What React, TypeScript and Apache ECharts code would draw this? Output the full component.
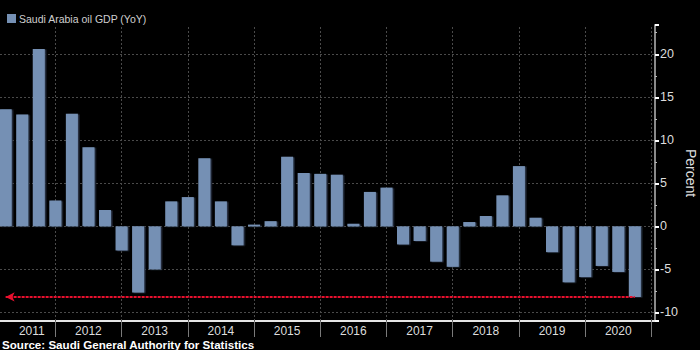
import React, { useEffect, useRef } from "react";
import * as echarts from "echarts";

// Quarterly data, 2011 Q1 .. 2020 Q3 (plotted at quarter end)
const quarters = [
  "2011Q1", "2011Q2", "2011Q3", "2011Q4",
  "2012Q1", "2012Q2", "2012Q3", "2012Q4",
  "2013Q1", "2013Q2", "2013Q3", "2013Q4",
  "2014Q1", "2014Q2", "2014Q3", "2014Q4",
  "2015Q1", "2015Q2", "2015Q3", "2015Q4",
  "2016Q1", "2016Q2", "2016Q3", "2016Q4",
  "2017Q1", "2017Q2", "2017Q3", "2017Q4",
  "2018Q1", "2018Q2", "2018Q3", "2018Q4",
  "2019Q1", "2019Q2", "2019Q3", "2019Q4",
  "2020Q1", "2020Q2", "2020Q3",
];
const oilGdpYoY = [
  13.6, 13.0, 20.6, 3.0,
  13.1, 9.2, 1.9, -2.8,
  -7.7, -5.0, 2.9, 3.4,
  7.9, 2.9, -2.2, 0.2,
  0.6, 8.1, 6.2, 6.1,
  6.0, 0.3, 4.0, 4.5,
  -2.1, -1.7, -4.1, -4.7,
  0.5, 1.2, 3.6, 7.0,
  1.0, -3.0, -6.5, -5.9,
  -4.6, -5.3, -8.2,
];
const years = ["2011", "2012", "2013", "2014", "2015", "2016", "2017", "2018", "2019", "2020"];
const seriesName = "Saudi Arabia oil GDP (YoY)";
const sourceText = "Source: Saudi General Authority for Statistics";

const X_MIN = 0.66;
const X_MAX = 40.22;
const FONT = "'Liberation Sans', Arial, sans-serif";

export default function App() {
  const ref = useRef<HTMLDivElement>(null);

  useEffect(() => {
    if (!ref.current) return;
    const chart = echarts.init(ref.current, null, { renderer: "svg" });

    // x position of each quarter = quarters elapsed since start of 2011
    const barData = oilGdpYoY.map((v, i) => [i + 1, v]);
    const yearBounds = years.map((_, i) => 4 * (i + 1));
    const yearCenters = years.map((_, i) => {
      const s = Math.max(4 * i, X_MIN + 0.5);
      const e = Math.min(4 * (i + 1), X_MAX);
      return (s + e) / 2;
    });
    const lastIdx = oilGdpYoY.length - 1;
    const lastVal = oilGdpYoY[lastIdx];

    chart.setOption({
      animation: false,
      backgroundColor: "#000000",
      textStyle: { fontFamily: FONT },
      grid: { left: 0, right: 45, top: 25, bottom: 29, containLabel: false, outerBoundsMode: "none" },
      legend: {
        data: [seriesName],
        left: 2,
        top: 8,
        icon: "rect",
        itemWidth: 9,
        itemHeight: 9,
        itemGap: 4,
        textStyle: { color: "#cfcfcf", fontSize: 10.5, fontFamily: FONT, padding: [0, 0, 0, -2] },
      },
      xAxis: {
        type: "value",
        min: X_MIN,
        max: X_MAX,
        axisLine: { show: true, onZero: false, lineStyle: { color: "#e6e6e6", width: 2 } },
        axisTick: {
          show: true,
          customValues: yearBounds,
          length: 16,
          lineStyle: { color: "#7a7a7a", width: 1 },
        },
        axisLabel: {
          show: true,
          customValues: yearCenters,
          formatter: (v: number) => years[Math.min(years.length - 1, Math.floor(v / 4))],
          color: "#dddddd",
          fontSize: 12,
          lineHeight: 12,
          margin: 4,
          fontFamily: FONT,
        },
        splitLine: { show: false },
      },
      yAxis: {
        type: "value",
        position: "right",
        min: -11,
        max: 23.4,
        splitNumber: 7,
        name: "Percent",
        nameLocation: "middle",
        nameRotate: -90,
        nameGap: 29,
        nameMoveOverlap: false,
        nameTextStyle: { color: "#dddddd", fontSize: 14, lineHeight: 14, fontFamily: FONT },
        axisLine: { show: true, onZero: false, lineStyle: { color: "#8a8a8a", width: 2 } },
        axisTick: { show: true, length: 4, lineStyle: { color: "#ffffff", width: 2 } },
        minorTick: { show: true, splitNumber: 2, length: 2, lineStyle: { color: "#bbbbbb", width: 1 } },
        axisLabel: {
          color: "#dddddd",
          fontSize: 12.5,
          margin: 5,
          showMinLabel: false,
          showMaxLabel: false,
          fontFamily: FONT,
        },
        splitLine: {
          show: true,
          showMinLine: false,
          showMaxLine: false,
          lineStyle: { color: "#4a4a4a", type: [2, 2], width: 1 },
        },
      },
      series: [
        {
          type: "line",
          name: "grid",
          data: [],
          z: 1,
          silent: true,
          markLine: {
            silent: true,
            z: 1,
            symbol: ["none", "none"],
            label: { show: false },
            lineStyle: { color: "#4a4a4a", type: [2, 2], width: 1 },
            data: yearBounds.map((b) => ({ xAxis: b })),
          },
        },
        {
          type: "bar",
          name: seriesName,
          data: barData,
          barWidth: 12,
          z: 3,
          itemStyle: {
            color: "#7590b4",
            shadowColor: "#2c3646",
            shadowOffsetX: 1.5,
            shadowOffsetY: 0.5,
            shadowBlur: 0,
          },
          markLine: {
            silent: true,
            z: 6,
            label: { show: false },
            symbol: ["arrow", "none"],
            symbolSize: [7, 9],
            lineStyle: { color: "#e8102e", type: [3, 1], width: 2 },
            data: [
              [
                { coord: [1, lastVal], symbol: "arrow" },
                { coord: [lastIdx + 1, lastVal], symbol: "none" },
              ],
            ],
          },
        },
      ],
      graphic: [
        {
          type: "text",
          left: 2,
          top: 338,
          style: {
            text: sourceText,
            fill: "#ffffff",
            font: `bold 11.6px ${FONT}`,
          },
        },
      ],
    });

    return () => chart.dispose();
  }, []);

  return (
    <div
      ref={ref}
      style={{ position: "fixed", left: 0, top: 0, width: 700, height: 350, background: "#000" }}
    />
  );
}
